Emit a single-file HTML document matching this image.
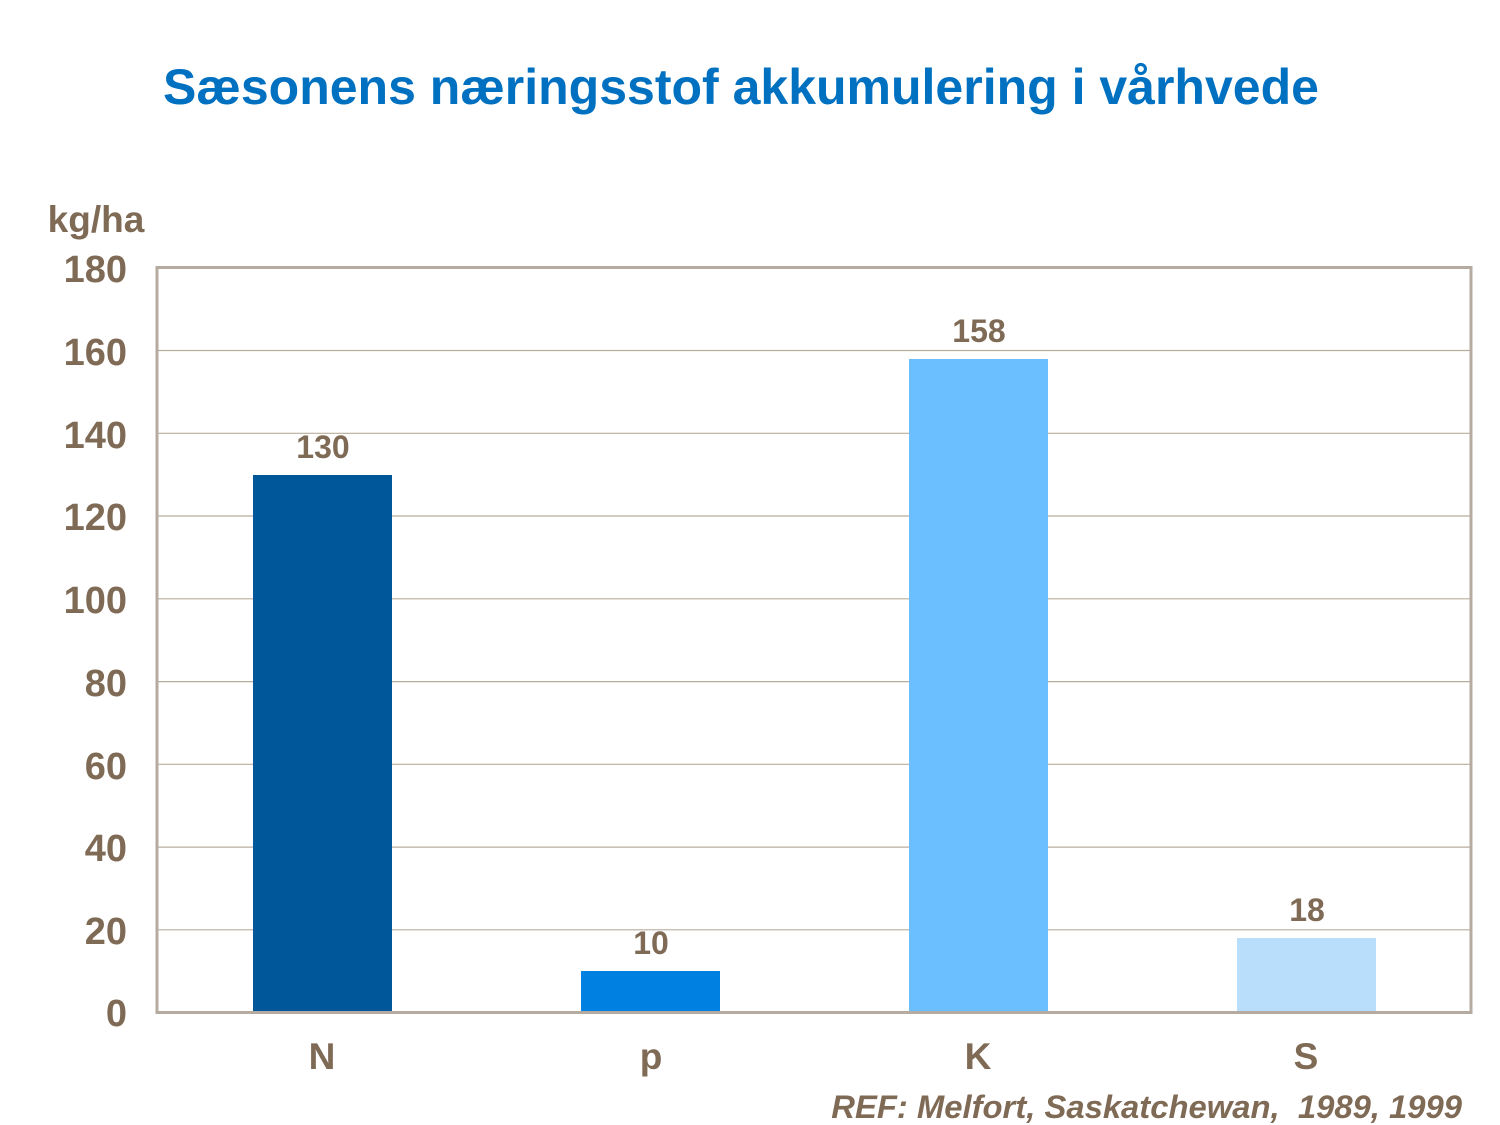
<!DOCTYPE html>
<html><head><meta charset="utf-8"><style>body{margin:0;background:#fff}svg{display:block}</style></head><body>
<svg width="1500" height="1125" xmlns="http://www.w3.org/2000/svg" font-family="Liberation Sans, Arial, sans-serif" font-weight="bold">
<text x="741" y="104" text-anchor="middle" font-size="50" fill="#0070c0">Sæsonens næringsstof akkumulering i vårhvede</text>
<text x="96" y="232" text-anchor="middle" font-size="37" fill="#7f6a55">kg/ha</text>
<g stroke="#b8ae9e" stroke-width="1.2">
<line x1="157" x2="1471" y1="350.5" y2="350.5"/><line x1="157" x2="1471" y1="433.3" y2="433.3"/>
<line x1="157" x2="1471" y1="516" y2="516"/><line x1="157" x2="1471" y1="598.8" y2="598.8"/>
<line x1="157" x2="1471" y1="681.6" y2="681.6"/><line x1="157" x2="1471" y1="764.3" y2="764.3"/>
<line x1="157" x2="1471" y1="847.1" y2="847.1"/><line x1="157" x2="1471" y1="929.8" y2="929.8"/>
</g>
<rect x="253" y="475" width="139" height="537" fill="#005799"/>
<rect x="581" y="971" width="139" height="41" fill="#0080e0"/>
<rect x="909" y="359" width="139" height="653" fill="#6bbfff"/>
<rect x="1237" y="938" width="139" height="74" fill="#b8defc"/>
<rect x="157" y="267.5" width="1314" height="745" fill="none" stroke="#b5aba0" stroke-width="3"/>
<g font-size="38" fill="#7f6a55" text-anchor="end">
<text x="127" y="282">180</text><text x="127" y="365">160</text><text x="127" y="448">140</text>
<text x="127" y="530">120</text><text x="127" y="613">100</text><text x="127" y="696">80</text>
<text x="127" y="779">60</text><text x="127" y="861">40</text><text x="127" y="944">20</text>
<text x="127" y="1026">0</text>
</g>
<g font-size="32" fill="#7f6a55" text-anchor="middle">
<text x="323" y="458">130</text><text x="651" y="954">10</text>
<text x="979" y="342">158</text><text x="1307" y="921">18</text>
</g>
<g font-size="37" fill="#7f6a55" text-anchor="middle">
<text x="322" y="1069">N</text><text x="651" y="1069">p</text>
<text x="978" y="1069">K</text><text x="1306" y="1069">S</text>
</g>
<text x="1462" y="1118" text-anchor="end" font-size="32.8" font-style="italic" fill="#7f6a55" xml:space="preserve">REF: Melfort, Saskatchewan,  1989, 1999</text>
</svg>
</body></html>
